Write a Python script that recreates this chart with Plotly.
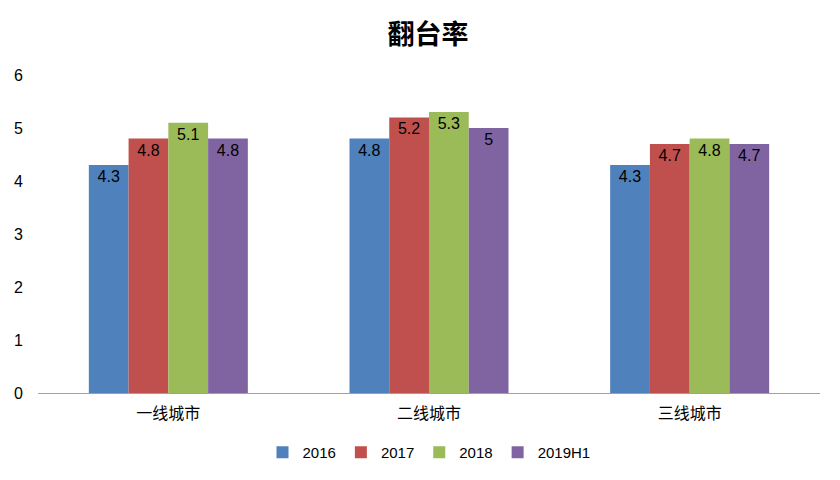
import plotly.graph_objects as go

categories = ["一线城市", "二线城市", "三线城市"]
series_names = ["2016", "2017", "2018", "2019H1"]
v2016 = [4.3, 4.8, 4.3]
v2017 = [4.8, 5.2, 4.7]
v2018 = [5.1, 5.3, 4.8]
v2019h1 = [4.8, 5.0, 4.7]
colors = ["#4F81BD", "#C0504D", "#9BBB59", "#8064A2"]

font_family = "Noto Sans CJK SC, Liberation Sans, sans-serif"
fig = go.Figure()
for name, vals, c in zip(series_names, [v2016, v2017, v2018, v2019h1], colors):
    fig.add_trace(go.Bar(
        x=categories, y=vals, name=name, marker=dict(color=c, line=dict(width=0)),
        text=[f"{v:g}" for v in vals], textposition="inside", insidetextanchor="end",
        textfont=dict(color="black", size=16, family="Liberation Sans, sans-serif"),
        textangle=0,
    ))

fig.update_layout(
    width=840, height=480,
    margin=dict(l=30, r=28, t=67, b=95),
    paper_bgcolor="white", plot_bgcolor="white",
    barmode="group", bargap=0.39, bargroupgap=0,
    title=dict(text="<b>翻台率</b>", x=0.5, xanchor="center", y=0.944, yanchor="middle",
               font=dict(size=27, color="black", family=font_family)),
    font=dict(family=font_family, color="black"),
    showlegend=True,
    legend=dict(orientation="h", x=0.5, xanchor="center", y=-0.135, yanchor="top",
                itemwidth=30,
                font=dict(size=15, family="Liberation Sans, sans-serif"), traceorder="normal"),
    uniformtext=dict(minsize=10, mode="show"),
)
fig.update_xaxes(showgrid=False, showline=True, linecolor="#A0A0A0", linewidth=1,
                 tickfont=dict(size=16, family=font_family), ticks="", range=[-0.5, 2.5],
                 ticklabelstandoff=6, automargin=False)
fig.update_yaxes(range=[0, 6], dtick=1, showgrid=False, showline=False, zeroline=False,
                 tickfont=dict(size=16, family="Liberation Sans, sans-serif"), ticks="",
                 ticklabelstandoff=14, automargin=False)
fig.write_html("out.html")
